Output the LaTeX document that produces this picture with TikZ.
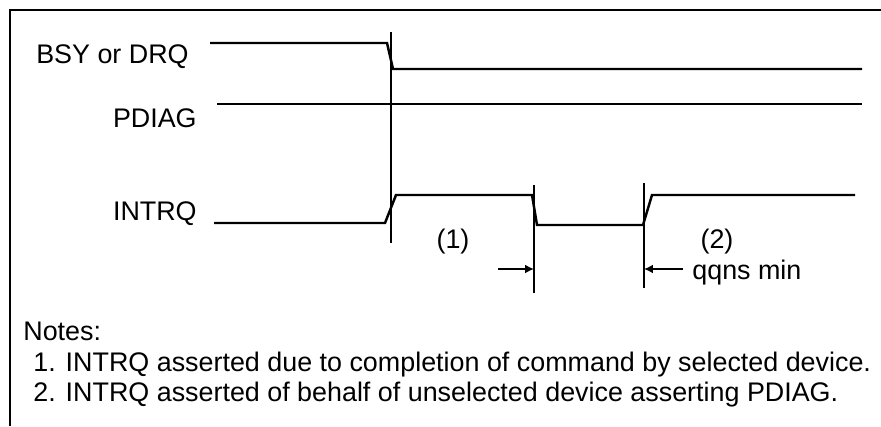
\documentclass[tikz,border=0pt]{standalone}
\usepackage{fontspec}
\setmainfont{Liberation Sans}
\usepackage{tikz}
\usetikzlibrary{arrows.meta,positioning}

\begin{document}
\begin{tikzpicture}[x=0.02cm, y=-0.02cm, >={Latex[length=5pt,width=5pt]},
    every node/.style={font=\fontsize{15.3}{18.4}\selectfont, inner sep=0pt},
    sig/.style={line width=1.4pt, line join=miter},
    mark line/.style={line width=1.4pt}]
    \useasboundingbox (0,0) rectangle (881,426);

    % Outer frame (top and left edges only)
    \draw[line width=1.4pt] (10,426) -- (10,10) -- (881,10);

    % Signal names
    \node[anchor=base east] (bsy) at (189,63) {BSY or DRQ};
    \node[anchor=base east] (pdiag) at (197,127) {PDIAG};
    \node[anchor=base east] (intrq) at (197,220) {INTRQ};

    % Waveforms
    \draw[sig] (210,43) -- (387,43) -- (393,69) -- (862,69);   % BSY or DRQ
    \draw[sig] (217,104) -- (862,104);                          % PDIAG
    \draw[sig] (214,223) -- (385,223) -- (396,195) -- (532,195)
               -- (537,225) -- (643,225) -- (652,195) -- (855,195); % INTRQ

    % Timing markers
    \coordinate (t0) at (391,32);  \coordinate (t0b) at (391,243);
    \coordinate (t1) at (534,185); \coordinate (t1b) at (534,293);
    \coordinate (t2) at (644,183); \coordinate (t2b) at (644,288);
    \draw[mark line] (t0) -- (t0b);
    \draw[mark line] (t1) -- (t1b);
    \draw[mark line] (t2) -- (t2b);

    % Interval labels and arrows
    \node (one) at (453,242) {(1)};
    \node (two) at (717,242) {(2)};
    \node[anchor=base west] (qq) at (692,279) {qqns min};
    \coordinate (a1) at (498,269); \coordinate (m1) at (534,269);
    \coordinate (a2) at (683,269); \coordinate (m2) at (644,269);
    \draw[->, line width=1.1pt] (a1) -- (m1);
    \draw[->, line width=1.1pt] (a2) -- (m2);

    % Notes
    \node[anchor=base west] (notes) at (23,340) {Notes:};
    \node[anchor=base west] (note1) at (33,371) {1. INTRQ asserted due to completion of command by selected device.};
    \node[anchor=base west] (note2) at (33,401) {2. INTRQ asserted of behalf of unselected device asserting PDIAG.};
  \end{tikzpicture}
\end{document}
